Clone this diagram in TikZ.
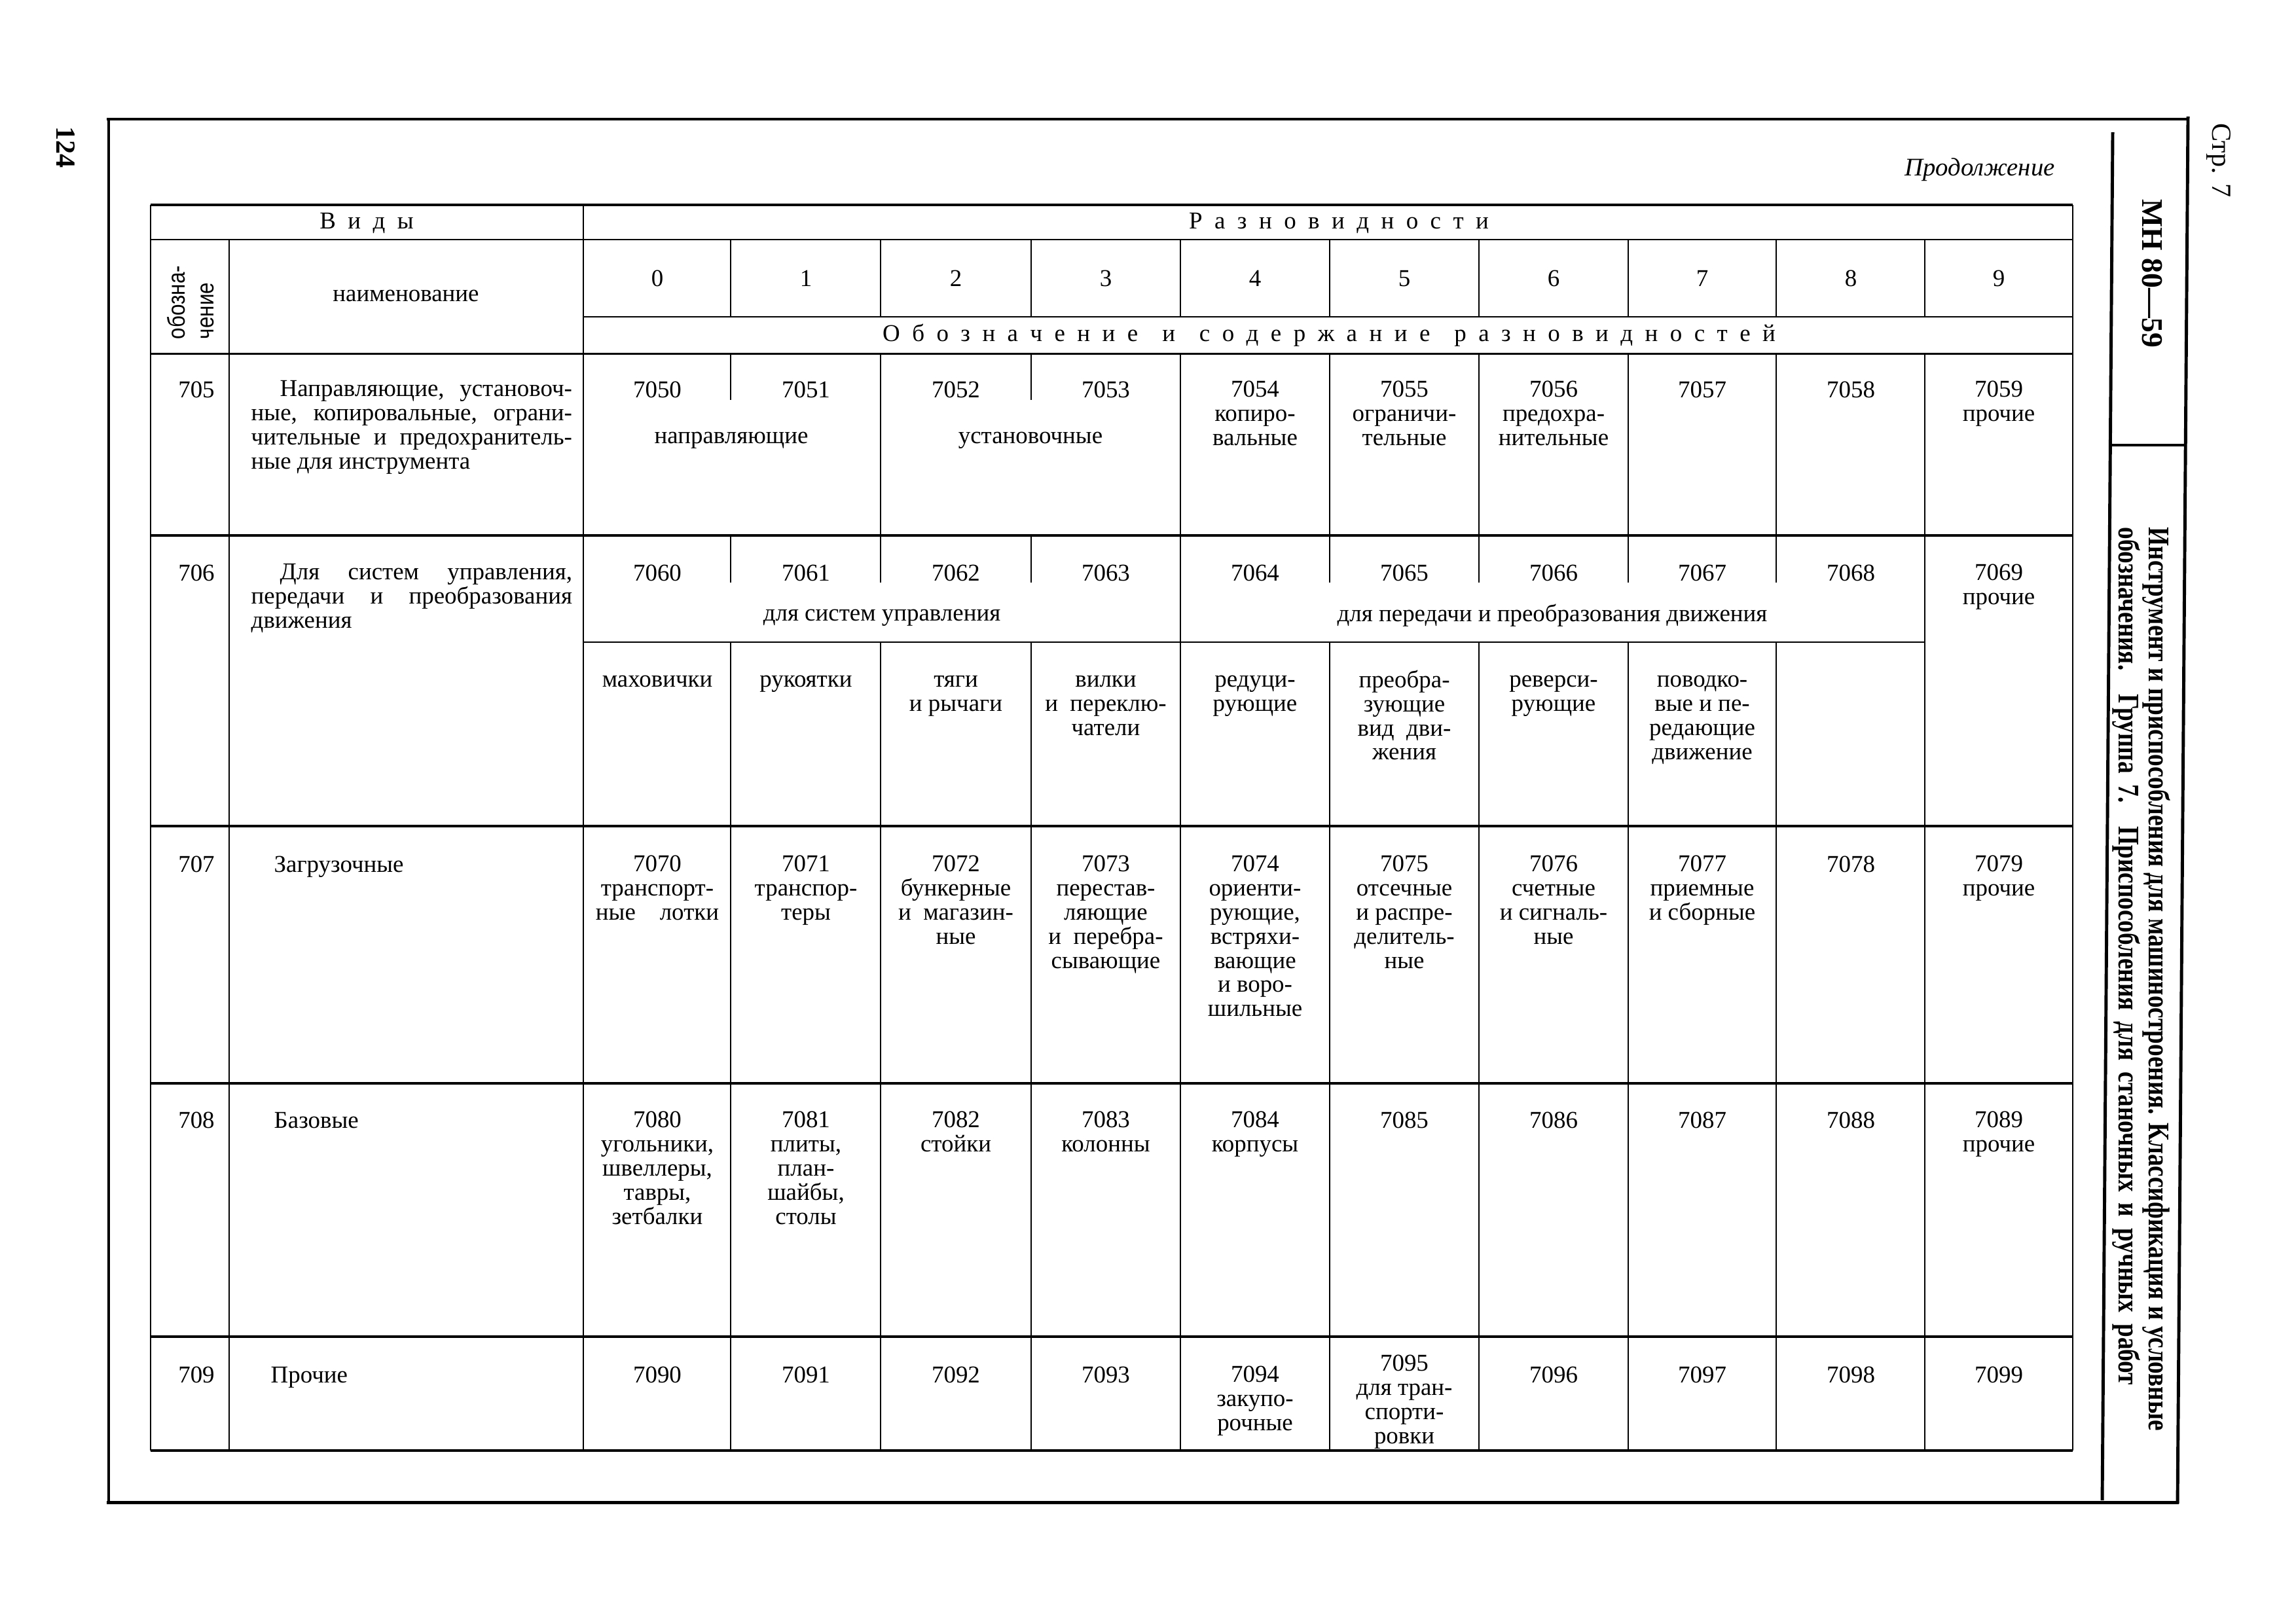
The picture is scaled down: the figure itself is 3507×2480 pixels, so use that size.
\documentclass[tikz,border=0pt]{standalone}
\usepackage{fontspec}
\setmainfont{Liberation Serif}
\setsansfont{Liberation Sans}
\usepackage{graphicx}

% one justified line of a given width
\newcommand{\jl}[2]{\makebox[#1][s]{#2}}
\newcommand{\cstrut}{\rule{0pt}{7.4pt}}

\tikzset{
  frame line/.style={line width=1.4pt},
  bold rule/.style={line width=1.3pt},
  mid rule/.style={line width=0.85pt},
  thin rule/.style={line width=0.6pt},
  cell/.style={font=\fontsize{10.5}{10.5}\selectfont, inner sep=0pt, anchor=north, align=center, execute at begin node=\cstrut},
  desc/.style={font=\fontsize{10.5}{10.5}\selectfont, inner sep=0pt, anchor=north west, align=left, execute at begin node=\cstrut},
  spaced/.style={font={\fontsize{10.5}{10.5}\selectfont\spaceskip=#1\relax}, inner sep=0pt},
  spaced/.default=0.5em,
}

\begin{document}
\begin{tikzpicture}[x=0.01cm, y=-0.01cm]
    \fill[white] (0,0) rectangle (3507,2480);
    \useasboundingbox (0,0) rectangle (3507,2480);

    % page frame and title band
    \draw[frame line] (163,182) -- (3342,182);
    \draw[frame line] (166,180) -- (166,2297);
    \draw[frame line] (163,2295) -- (3328,2295);
    \draw[frame line] (3342,178) -- (3326,2297);
    \draw[frame line] (3227,202) -- (3211,2292);
    \draw[frame line] (3223,680) -- (3339,680);

    \node[rotate=-90, font=\fontsize{12}{12}\selectfont\bfseries] (pagenum) at (100,225) {124};
    \node[rotate=-90, font=\fontsize{12}{12}\selectfont] (sheet) at (3389,245) {Стр. 7};
    \node[rotate=-90, font=\fontsize{13}{13}\selectfont\bfseries] (code) at (3287,418) {МН 80—59};
    \node[rotate=-90, anchor=north west, align=left, inner sep=0pt,
          font=\fontsize{13}{11.7}\selectfont\bfseries] (title) at (3316,805)
      {\scalebox{0.814}[1]{Инструмент и приспособления для машиностроения. Классификация и условные}\\
       \scalebox{0.814}[1]{\makebox[16.09cm][s]{обозначения. Группа 7. Приспособления для станочных и ручных работ}}};
    \node[font=\fontsize{11}{11}\selectfont\itshape] (cont) at (3024,259) {Продолжение};

    % horizontal rules
    \draw[bold rule] (230,313) -- (3166,313);
    \draw[thin rule] (230,366) -- (3166,366);
    \draw[thin rule] (891,484) -- (3166,484);
    \draw[mid rule] (230,540) -- (3166,540);
    \foreach \y in {818,1262,1655,2042,2216}
      \draw[bold rule] (230,\y) -- (3166,\y);
    \draw[thin rule] (891,981) -- (2940,981);

    % vertical rules
    \draw[thin rule] (230,313) -- (230,2216);
    \draw[thin rule] (3166,313) -- (3166,2216);
    \draw[thin rule] (891,313) -- (891,2216);
    \draw[thin rule] (350,366) -- (350,2216);
    \foreach \x in {1116,1345,1575,1803,2031,2259,2487,2713,2940}
      \draw[thin rule] (\x,366) -- (\x,484);
    \foreach \x in {1345,1803,2031,2259,2487,2713,2940}
      \draw[thin rule] (\x,540) -- (\x,818);
    \foreach \x in {1116,1575}
      \draw[thin rule] (\x,540) -- (\x,611);
    \foreach \x in {1116,1345,1575,2031,2259,2487,2713}
      \draw[thin rule] (\x,818) -- (\x,890);
    \foreach \x in {1803,2940}
      \draw[thin rule] (\x,818) -- (\x,981);
    \foreach \x in {1116,1345,1575,1803,2031,2259,2487,2713,2940}
      \draw[thin rule] (\x,981) -- (\x,2216);

    % head
    \node[spaced] (vidy) at (560,341) {В и д ы};
    \node[spaced] (razn) at (2045,341) {Р а з н о в и д н о с т и};
    \node[spaced] (obozn) at (2030,512) {О б о з н а ч е н и е\hspace{0.5em} и\hspace{0.5em} с о д е р ж а н и е\hspace{0.5em} р а з н о в и д н о с т е й};
    \node[rotate=90, align=left, inner sep=0pt, font=\fontsize{10.5}{12.5}\selectfont\sffamily] (oboz) at (291,462)
      {\scalebox{0.85}[1]{обозна-}\\\scalebox{0.85}[1]{чение}};
    \node[cell] (naim) at (620,434) {наименование};
    \foreach \k/\x in {0/1004,1/1231,2/1460,3/1689,4/1917,5/2145,6/2373,7/2600,8/2827,9/3053}
      \node[cell] (h\k) at (\x,411) {\k};

    % 705
    \node[cell] (k705) at (300,581) {705};
    \node[desc] (d705) at (383,581) {\hspace*{0.44cm}\jl{4.46cm}{Направляющие, установоч-}\\
      \jl{4.9cm}{ные, копировальные, ограни-}\\\jl{4.9cm}{чительные и предохранитель-}\\ные для инструмента};
    \foreach \k/\x in {0/1004,1/1231,2/1460,3/1689,7/2600,8/2827}
      \node[cell] (n705\k) at (\x,581) {705\k};
    \node[cell] (n7054) at (1917,581) {7054\\копиро-\\вальные};
    \node[cell] (n7055) at (2145,581) {7055\\ограничи-\\тельные};
    \node[cell] (n7056) at (2373,581) {7056\\предохра-\\нительные};
    \node[cell] (n7059) at (3053,581) {7059\\прочие};
    \node[cell] (g705a) at (1117,651) {направляющие};
    \node[cell] (g705b) at (1574,651) {установочные};

    % 706
    \node[cell] (k706) at (300,861) {706};
    \node[desc] (d706) at (383,861) {\hspace*{0.44cm}\jl{4.46cm}{Для систем управления,}\\
      \jl{4.9cm}{передачи и преобразования}\\движения};
    \foreach \k/\x in {0/1004,1/1231,2/1460,3/1689,4/1917,5/2145,6/2373,7/2600,8/2827}
      \node[cell] (n706\k) at (\x,861) {706\k};
    \node[cell] (n7069) at (3053,861) {7069\\прочие};
    \node[cell] (g706a) at (1347,922) {для систем управления};
    \node[cell] (g706b) at (2371,922) {для передачи и преобразования движения};
    \node[cell] (s7060) at (1004,1023) {маховички};
    \node[cell] (s7061) at (1231,1023) {рукоятки};
    \node[cell] (s7062) at (1460,1023) {\cstrut тяги\\и рычаги};
    \node[cell] (s7063) at (1689,1023) {\cstrut вилки\\и\enspace переклю-\\чатели};
    \node[cell] (s7064) at (1917,1023) {\cstrut редуци-\\рующие};
    \node[cell] (s7065) at (2145,1023) {\cstrut преобра-\\зующие\\вид\enspace дви-\\жения};
    \node[cell] (s7066) at (2373,1023) {\cstrut реверси-\\рующие};
    \node[cell] (s7067) at (2600,1023) {\cstrut поводко-\\вые и пе-\\редающие\\движение};

    % 707
    \node[cell] (k707) at (300,1306) {707};
    \node[desc] (d707) at (418,1306) {Загрузочные};
    \node[cell] (n7070) at (1004,1306) {7070\\транспорт-\\ные\quad лотки};
    \node[cell] (n7071) at (1231,1306) {7071\\транспор-\\теры};
    \node[cell] (n7072) at (1460,1306) {7072\\бункерные\\и\enspace магазин-\\ные};
    \node[cell] (n7073) at (1689,1306) {7073\\перестав-\\ляющие\\и\enspace перебра-\\сывающие};
    \node[cell] (n7074) at (1917,1306) {7074\\ориенти-\\рующие,\\встряхи-\\вающие\\и воро-\\шильные};
    \node[cell] (n7075) at (2145,1306) {7075\\отсечные\\и распре-\\делитель-\\ные};
    \node[cell] (n7076) at (2373,1306) {7076\\счетные\\и сигналь-\\ные};
    \node[cell] (n7077) at (2600,1306) {7077\\приемные\\и сборные};
    \node[cell] (n7078) at (2827,1306) {7078};
    \node[cell] (n7079) at (3053,1306) {7079\\прочие};

    % 708
    \node[cell] (k708) at (300,1697) {708};
    \node[desc] (d708) at (418,1697) {Базовые};
    \node[cell] (n7080) at (1004,1697) {7080\\угольники,\\швеллеры,\\тавры,\\зетбалки};
    \node[cell] (n7081) at (1231,1697) {7081\\плиты,\\план-\\шайбы,\\столы};
    \node[cell] (n7082) at (1460,1697) {7082\\стойки};
    \node[cell] (n7083) at (1689,1697) {7083\\колонны};
    \node[cell] (n7084) at (1917,1697) {7084\\корпусы};
    \foreach \k/\x in {5/2145,6/2373,7/2600,8/2827}
      \node[cell] (n708\k) at (\x,1697) {708\k};
    \node[cell] (n7089) at (3053,1697) {7089\\прочие};

    % 709
    \node[cell] (k709) at (300,2086) {709};
    \node[desc] (d709) at (413,2086) {Прочие};
    \foreach \k/\x in {0/1004,1/1231,2/1460,3/1689,6/2373,7/2600,8/2827,9/3053}
      \node[cell] (n709\k) at (\x,2086) {709\k};
    \node[cell] (n7094) at (1917,2086) {7094\\закупо-\\рочные};
    \node[cell] (n7095) at (2145,2069) {7095\\для тран-\\спорти-\\ровки};
\end{tikzpicture}
\end{document}
